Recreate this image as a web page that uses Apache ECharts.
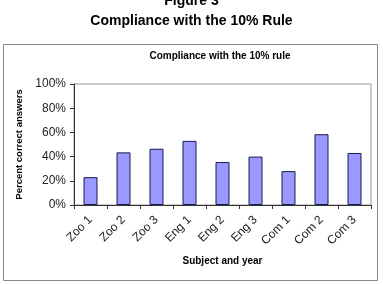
<!DOCTYPE html>
<html>
<head>
<meta charset="utf-8">
<script src="https://cdn.jsdelivr.net/npm/echarts@6/dist/echarts.min.js"></script>
<style>
	html, body { margin: 0; padding: 0; background: #fff; }
	#chart { width: 383px; height: 284px; }
</style>
</head>
<body>
<div id="chart"></div>
<script>
	'use strict';

	var categories = ['Zoo 1', 'Zoo 2', 'Zoo 3', 'Eng 1', 'Eng 2', 'Eng 3', 'Com 1', 'Com 2', 'Com 3'];
	var percentCorrect = [23, 43.5, 46.5, 53, 35.5, 40, 28, 58.5, 43];
	var yTicks = [0, 20, 40, 60, 80, 100];

	var font = '"Liberation Sans", Arial, sans-serif';
	var chart = echarts.init(document.getElementById('chart'));

	chart.setOption({
		animation: false,
		textStyle: { fontFamily: font },
		title: [{
			text: 'Figure 3',
			left: 'center',
			top: -11,
			textStyle: { fontSize: 14, fontWeight: 'bold', color: '#000', fontFamily: font }
		}, {
			text: 'Compliance with the 10% Rule',
			left: 'center',
			top: 9,
			textStyle: { fontSize: 14, fontWeight: 'bold', color: '#000', fontFamily: font }
		}],
		graphic: [{
			type: 'rect',
			shape: { x: 3.5, y: 44.5, width: 374, height: 236 },
			style: { fill: 'none', stroke: '#888', lineWidth: 1 },
			z: -1
		}, {
			type: 'text',
			x: 220,
			y: 56,
			style: {
				text: 'Compliance with the 10% rule',
				fill: '#000',
				font: 'bold 10px ' + font,
				align: 'center',
				verticalAlign: 'middle'
			}
		}],
		grid: {
			left: 74,
			right: 12,
			top: 84,
			bottom: 79,
			show: true,
			borderColor: '#999',
			borderWidth: 1,
			backgroundColor: '#fff'
		},
		xAxis: {
			type: 'category',
			data: categories,
			name: 'Subject and year',
			nameLocation: 'middle',
			nameGap: 51,
			nameTextStyle: { fontSize: 10, fontWeight: 'bold', color: '#000', verticalAlign: 'top' },
			axisLine: { lineStyle: { color: '#333', width: 1 } },
			axisTick: { show: true, alignWithLabel: false, length: 4, lineStyle: { color: '#333' } },
			axisLabel: { rotate: 45, fontSize: 12, color: '#222', margin: 13, interval: 0 },
			splitLine: { show: false }
		},
		yAxis: {
			type: 'value',
			min: yTicks[0],
			max: yTicks[yTicks.length - 1],
			interval: yTicks[1] - yTicks[0],
			name: 'Percent correct answers',
			nameLocation: 'middle',
			nameGap: 48,
			nameTextStyle: { fontSize: 9.5, fontWeight: 'bold', color: '#000' },
			axisLine: { show: true, lineStyle: { color: '#333', width: 1 } },
			axisTick: { show: true, length: 4, lineStyle: { color: '#333' } },
			axisLabel: { formatter: '{value}%', fontSize: 12, color: '#222', margin: 8 },
			splitLine: { show: false }
		},
		series: [{
			type: 'bar',
			data: percentCorrect,
			barWidth: 14,
			itemStyle: { color: '#9999ff', borderColor: '#1a1a4d', borderWidth: 1 }
		}]
	});
</script>
</body>
</html>
